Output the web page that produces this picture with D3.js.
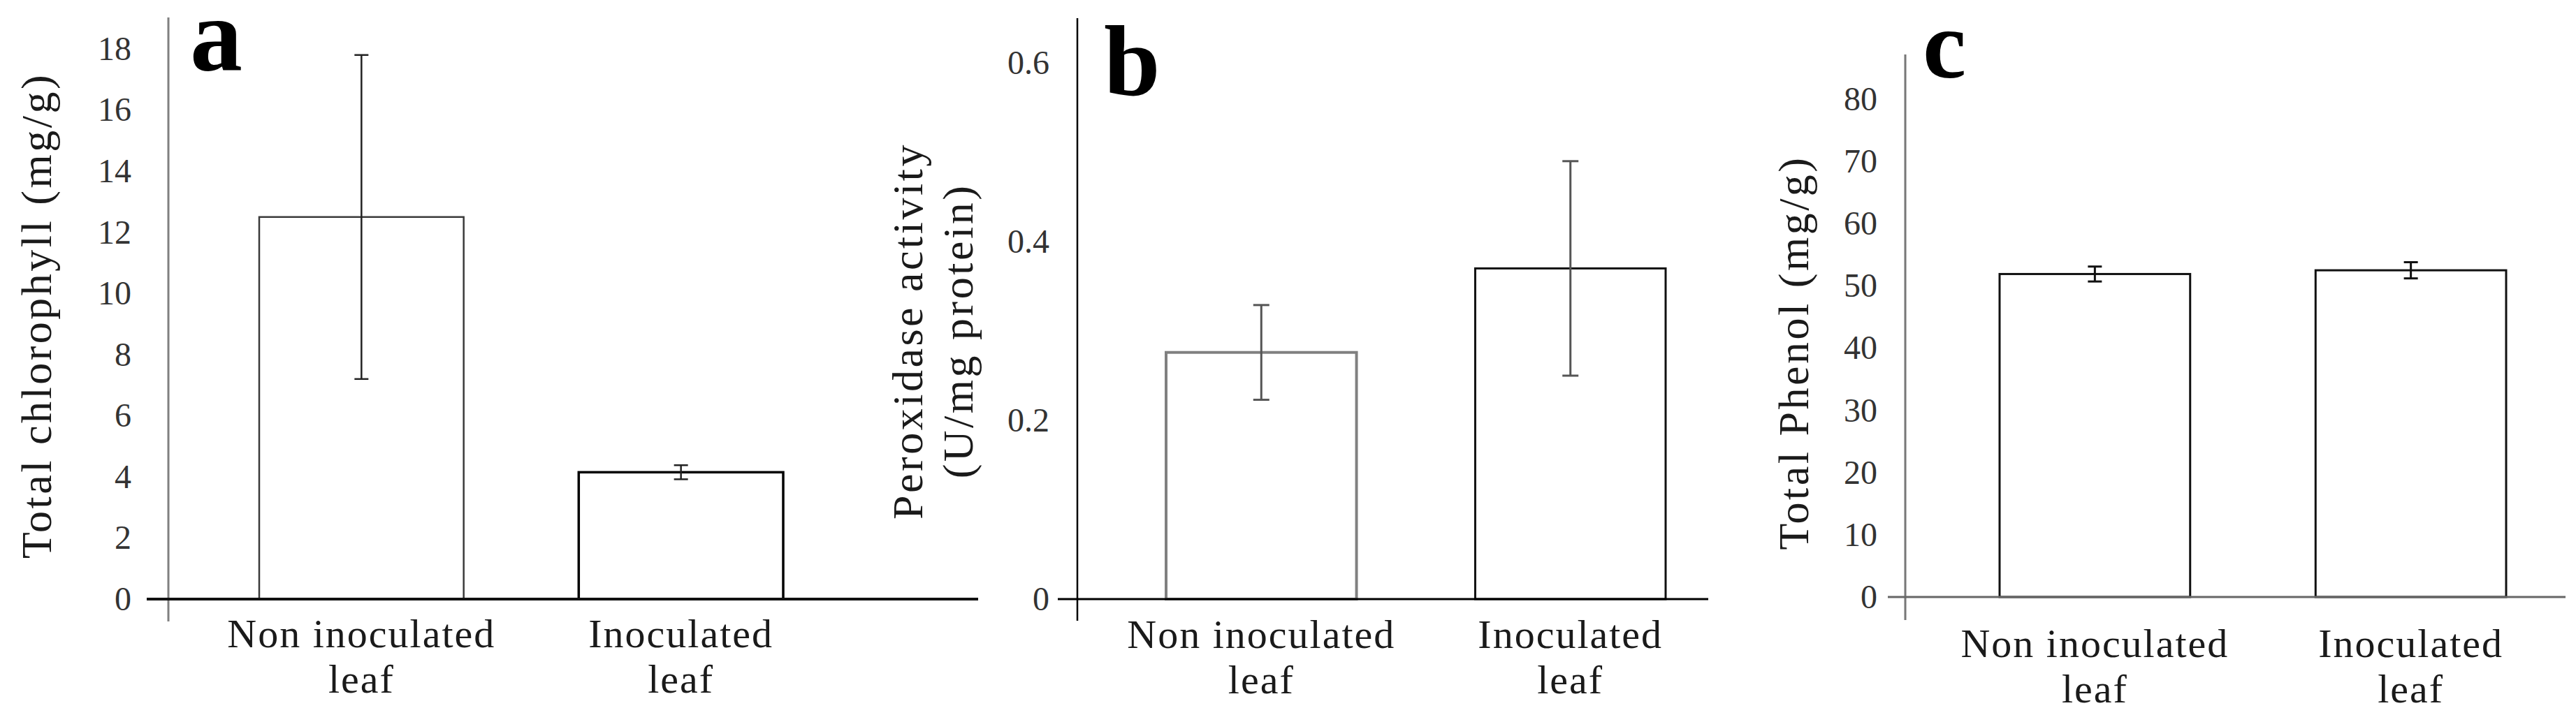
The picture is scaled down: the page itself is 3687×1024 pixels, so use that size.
<!DOCTYPE html>
<html>
<head>
<meta charset="utf-8">
<script src="https://cdn.jsdelivr.net/npm/d3@7"></script>
<style>
  html, body { margin: 0; padding: 0; background: #fff; }
  svg { display: block; }
  text { font-family: "Liberation Serif", "Times New Roman", serif; }
</style>
</head>
<body>
<svg id="chart" width="3687" height="1024"></svg>
<script>
// categories shared by the three panels
const categories = ["Non inoculated leaf", "Inoculated leaf"]
const categoryLines = [["Non inoculated", "leaf"], ["Inoculated", "leaf"]]

// a: total chlorophyll (mg/g)
const chlorophyll = [12.5, 4.15]
const chlorophyllErr = [5.3, 0.23]
const chlorophyllTicks = [0, 2, 4, 6, 8, 10, 12, 14, 16, 18]

// b: peroxidase activity (U/mg protein)
const peroxidase = [0.276, 0.37]
const peroxidaseErr = [0.053, 0.12]
const peroxidaseTicks = [0, 0.2, 0.4, 0.6]

// c: total phenol (mg/g)
const phenol = [51.9, 52.5]
const phenolErr = [1.2, 1.3]
const phenolTicks = [0, 10, 20, 30, 40, 50, 60, 70, 80]

// layout + styling per panel (pixels)
const panels = [
  {
    letter: "a", values: chlorophyll, errors: chlorophyllErr, ticks: chlorophyllTicks,
    fmt: d3.format("d"), yMax: 18,
    title: ["Total chlorophyll (mg/g)"], titleX: [73], titleY: 452,
    y0: 858, yMaxPx: 70, axisX: 241, axisTop: 25, axisBottom: 890,
    xFrom: 210, xTo: 1400,
    barLeft: 371, barRight: 1121, padInner: 0.36,
    tickRight: 188, tickSize: 48,
    catY: [927, 992],
    letterX: 272, letterY: 100, letterSize: 150,
    yAxisColor: "#808080", yAxisW: 3, xAxisColor: "#111", xAxisW: 4,
    barStroke: ["#3a3a3a", "#000"], barW: [2.5, 3.5],
    errColor: "#222", errW: 2.5, cap: 20
  },
  {
    letter: "b", values: peroxidase, errors: peroxidaseErr, ticks: peroxidaseTicks,
    fmt: d => d === 0 ? "0" : d3.format(".1f")(d), yMax: 0.6,
    title: ["Peroxidase activity", "(U/mg protein)"], titleX: [1320, 1392], titleY: 474,
    y0: 858, yMaxPx: 90, axisX: 1542, axisTop: 26, axisBottom: 889,
    xFrom: 1514, xTo: 2445,
    barLeft: 1669, barRight: 2384, padInner: 0.384,
    tickRight: 1502, tickSize: 48,
    catY: [928, 993],
    letterX: 1580, letterY: 136, letterSize: 145,
    yAxisColor: "#000", yAxisW: 2.5, xAxisColor: "#000", xAxisW: 3,
    barStroke: ["#808080", "#111"], barW: [4, 3],
    errColor: "#555", errW: 3, cap: 23
  },
  {
    letter: "c", values: phenol, errors: phenolErr, ticks: phenolTicks,
    fmt: d3.format("d"), yMax: 80,
    title: ["Total Phenol (mg/g)"], titleX: [2588], titleY: 505,
    y0: 855, yMaxPx: 142, axisX: 2727, axisTop: 78, axisBottom: 888,
    xFrom: 2702, xTo: 3672,
    barLeft: 2862, barRight: 3587, padInner: 0.397,
    tickRight: 2687, tickSize: 48,
    catY: [941, 1006],
    letterX: 2752, letterY: 111, letterSize: 140,
    yAxisColor: "#777", yAxisW: 3, xAxisColor: "#666", xAxisW: 3,
    barStroke: ["#111", "#111"], barW: [3, 3],
    errColor: "#111", errW: 3, cap: 20
  }
]

const svg = d3.select("#chart")

panels.forEach(p => {
  const g = svg.append("g")
  const y = d3.scaleLinear().domain([0, p.yMax]).range([p.y0, p.yMaxPx])
  const x = d3.scaleBand().domain(categories)
    .range([p.barLeft, p.barRight])
    .paddingInner(p.padInner).paddingOuter(0)

  const rows = categories.map((c, i) => ({ cat: c, lines: categoryLines[i], v: p.values[i], e: p.errors[i], i }))

  // tick labels only, no tick marks
  g.append("g")
    .attr("transform", `translate(${p.tickRight},0)`)
    .call(d3.axisLeft(y).tickValues(p.ticks).tickSize(0).tickPadding(0).tickFormat(p.fmt))
    .call(a => a.select(".domain").remove())
    .attr("font-family", "Liberation Serif")
    .attr("font-size", p.tickSize)
    .selectAll("text").attr("fill", "#333")

  // bars
  g.selectAll("rect.bar")
    .data(rows)
    .join("rect")
    .attr("class", "bar")
    .attr("x", d => x(d.cat))
    .attr("y", d => y(d.v))
    .attr("width", x.bandwidth())
    .attr("height", d => y(0) - y(d.v))
    .attr("fill", "#fff")
    .attr("stroke", d => p.barStroke[d.i])
    .attr("stroke-width", d => p.barW[d.i])

  // axis lines
  g.append("line")
    .attr("x1", p.axisX).attr("x2", p.axisX)
    .attr("y1", p.axisTop).attr("y2", p.axisBottom)
    .attr("stroke", p.yAxisColor).attr("stroke-width", p.yAxisW)
  g.append("line")
    .attr("x1", p.xFrom).attr("x2", p.xTo)
    .attr("y1", y(0)).attr("y2", y(0))
    .attr("stroke", p.xAxisColor).attr("stroke-width", p.xAxisW)

  // error bars
  const cx = d => x(d.cat) + x.bandwidth() / 2
  const err = g.selectAll("g.err").data(rows).join("g").attr("class", "err")
    .attr("stroke", p.errColor).attr("stroke-width", p.errW)
  err.append("line")
    .attr("x1", cx).attr("x2", cx)
    .attr("y1", d => y(d.v + d.e)).attr("y2", d => y(d.v - d.e))
  err.append("line")
    .attr("x1", d => cx(d) - p.cap / 2).attr("x2", d => cx(d) + p.cap / 2)
    .attr("y1", d => y(d.v + d.e)).attr("y2", d => y(d.v + d.e))
  err.append("line")
    .attr("x1", d => cx(d) - p.cap / 2).attr("x2", d => cx(d) + p.cap / 2)
    .attr("y1", d => y(d.v - d.e)).attr("y2", d => y(d.v - d.e))

  // category labels, two lines each
  g.selectAll("text.cat")
    .data(rows)
    .join("text")
    .attr("class", "cat")
    .attr("text-anchor", "middle")
    .attr("font-size", 58)
    .attr("letter-spacing", 2)
    .attr("fill", "#1a1a1a")
    .selectAll("tspan")
    .data(d => d.lines.map((t, k) => ({ t, k, x: cx(d) })))
    .join("tspan")
    .attr("x", d => d.x)
    .attr("y", d => p.catY[d.k])
    .text(d => d.t)

  // y axis title (rotated)
  p.title.forEach((t, k) => {
    g.append("text")
      .attr("transform", `translate(${p.titleX[k]},${p.titleY}) rotate(-90)`)
      .attr("text-anchor", "middle")
      .attr("font-size", 62)
      .attr("letter-spacing", 3.5)
      .attr("fill", "#1a1a1a")
      .text(t)
  })

  // panel letter
  g.append("text")
    .attr("x", p.letterX)
    .attr("y", p.letterY)
    .attr("font-size", p.letterSize)
    .attr("font-weight", "bold")
    .attr("fill", "#000")
    .text(p.letter)
})
</script>
</body>
</html>
